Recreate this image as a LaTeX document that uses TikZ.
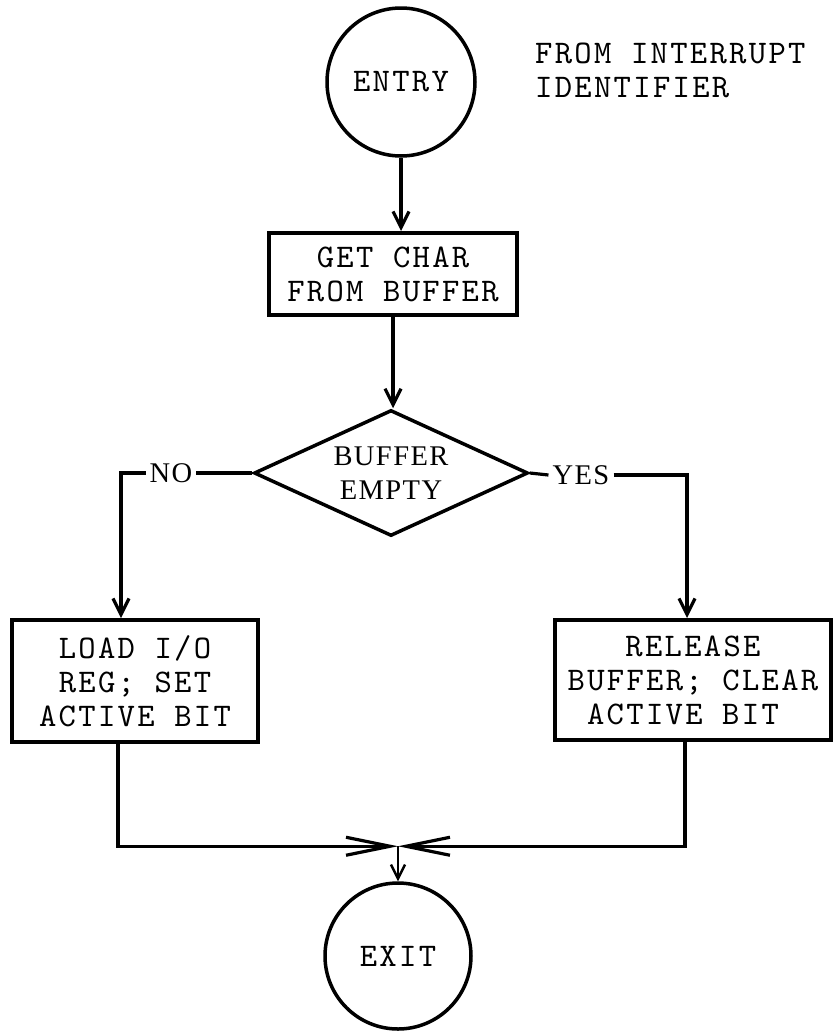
\documentclass[tikz,border=0pt]{standalone}
\usepackage{fontspec}
\usetikzlibrary{shapes.geometric,arrows.meta}
\newfontfamily\twfont{lmmono10-regular.otf}[LetterSpace=7]
\newfontfamily\labfont{Liberation Serif}[LetterSpace=5]
\newcommand\tw{\twfont\fontsize{33}{34}\selectfont}
\newcommand\rmlab{\labfont\fontsize{28.5}{34}\selectfont}
\begin{document}
\begin{tikzpicture}[x=1pt,y=-1pt,
  box/.style={draw, line width=4pt, rectangle, inner sep=0pt, font=\tw, align=center},
  term/.style={draw, circle, line width=3.5pt, inner sep=0pt, font=\tw},
  dec/.style={draw, diamond, line width=3.5pt, inner sep=0pt, shape aspect=2.17, font=\rmlab, align=center},
  lab/.style={font=\rmlab, inner sep=4pt},
  conn/.style={line width=3.2pt},
  arr/.style={conn, -{Straight Barb[length=16pt,width=16pt]}},
  thinarr/.style={line width=2.4pt, -{Straight Barb[length=14pt,width=14pt]}},
  bigarr/.style={conn, -{Straight Barb[length=44pt,width=18pt]}}]
\fill[white] (0,0) rectangle (834,1034);
\useasboundingbox (0,0) rectangle (834,1034);

\node[term, minimum size=148pt] (entry) at (401,82) {ENTRY};
\node[font=\tw, align=left, anchor=north west, inner sep=0pt] (src) at (535,43) {FROM INTERRUPT\\IDENTIFIER};
\node[box, minimum width=248pt, minimum height=82pt] (get) at (393,274) {GET CHAR\\FROM BUFFER};
\node[dec, minimum width=274pt, minimum height=126pt] (dia) at (391,473) {BUFFER\\EMPTY};
\node[lab] (no) at (171,473) {NO};
\node[lab] (yes) at (581,475) {YES};
\node[box, minimum width=246pt, minimum height=122pt] (lbox) at (135,681) {LOAD I/O\\REG; SET\\ACTIVE BIT};
\node[box, minimum width=276pt, minimum height=120pt] (rbox) at (693,680) {RELEASE\\BUFFER; CLEAR\\ACTIVE BIT\hspace*{20pt}};
\node[term, minimum size=146pt] (exit) at (398,956) {EXIT};

\draw[arr] (entry.south) -- (entry.south |- get.north);
\draw[arr] (get.south) -- (get.south |- dia.north);
\draw[conn] (dia.west) -- (no.east);
\draw[arr] (no.west) -| ([xshift=-14pt]lbox.north);
\draw[conn] (dia.east) -- (yes.west);
\draw[arr] (yes.east) -| ([xshift=-6pt]rbox.north);
\coordinate (j) at ([yshift=35pt]exit.north);
\draw[bigarr] ([xshift=-17pt]lbox.south) |- (j);
\draw[bigarr] ([xshift=-8pt]rbox.south) |- (j);
\draw[thinarr] (j) -- (exit.north);
\end{tikzpicture}
\end{document}
